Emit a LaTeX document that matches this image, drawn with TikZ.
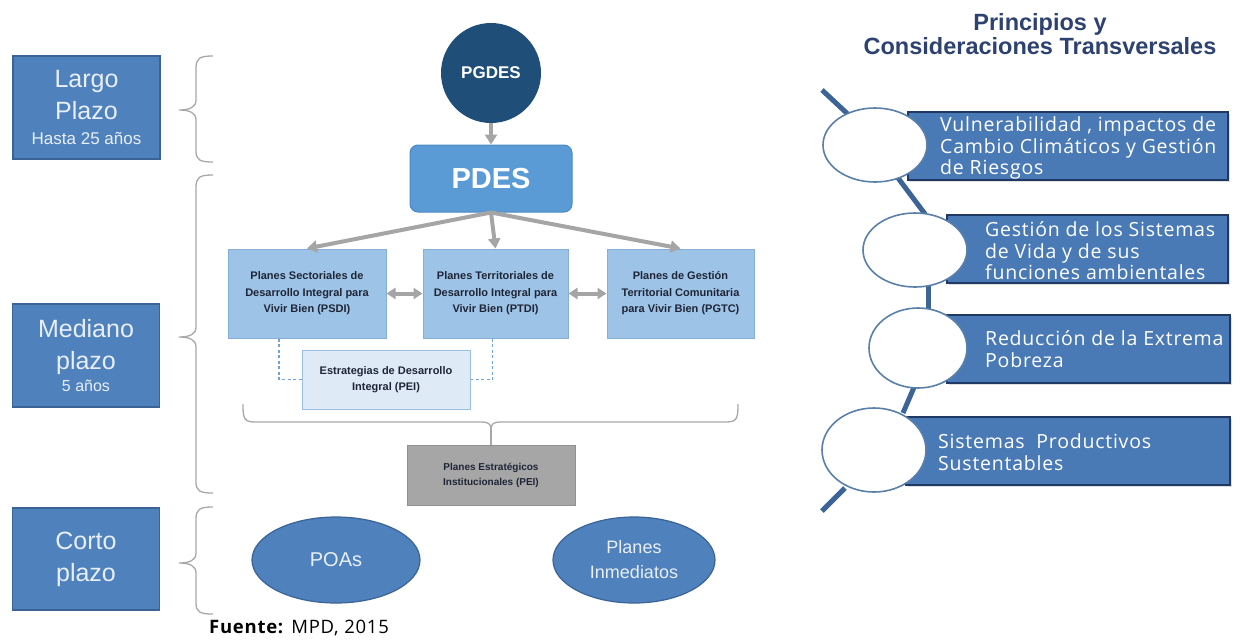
\documentclass[tikz,border=0pt]{standalone}
\usepackage{fontspec}
\setmainfont{Liberation Sans}
\newfontfamily\opensans[LetterSpace=4]{Open Sans}
\usetikzlibrary{arrows.meta,shapes.geometric,shadows}

\definecolor{termfill}{HTML}{4F81BD}
\definecolor{termedge}{HTML}{3A6396}
\definecolor{termtext}{HTML}{E8EFF8}
\definecolor{navy}{HTML}{1F4E79}
\definecolor{pdesblue}{HTML}{5B9BD5}
\definecolor{pdesedge}{HTML}{4A88C2}
\definecolor{planfill}{HTML}{9DC3E6}
\definecolor{planedge}{HTML}{85AED8}
\definecolor{peifill}{HTML}{DEEBF7}
\definecolor{peiedge}{HTML}{9BBFE0}
\definecolor{grayfill}{HTML}{A6A6A6}
\definecolor{grayedge}{HTML}{909090}
\definecolor{arrowgray}{HTML}{A5A5A5}
\definecolor{bracegray}{HTML}{A8A8A8}
\definecolor{darktext}{HTML}{1E2536}
\definecolor{titleblue}{HTML}{2E4272}
\definecolor{spine}{HTML}{3C6496}
\definecolor{rulefill}{HTML}{4A7AB6}
\definecolor{ruleedge}{HTML}{1F3864}
\definecolor{ringedge}{HTML}{5A80AA}
\definecolor{dashblue}{HTML}{6FA3D6}

\tikzset{
  term/.style={rectangle, fill=termfill, draw=termedge, line width=1.2pt,
    text=termtext, align=center, inner sep=0pt,
    minimum width=147pt, font=\fontsize{25}{32}\selectfont},
  brace/.style={draw=bracegray, line width=1.3pt},
  flow/.style={draw=arrowgray, line width=4pt,
    -{Triangle[length=10pt,width=12pt]}},
  twoway/.style={draw=arrowgray, line width=4pt,
    {Triangle[length=9pt,width=11pt]}-{Triangle[length=9pt,width=11pt]}},
  plan/.style={rectangle, fill=planfill, draw=planedge, line width=1pt,
    text=darktext, align=center, inner sep=0pt,
    font=\bfseries\fontsize{11}{16.5}\selectfont},
  dashline/.style={draw=dashblue, line width=1.2pt, dash pattern=on 3pt off 2.5pt},
  oval/.style={ellipse, fill=termfill, draw=termedge, line width=1.2pt,
    text=termtext, align=center, inner sep=0pt},
  rulebox/.style={rectangle, fill=rulefill, draw=ruleedge, line width=1.6pt,
    inner sep=0pt, drop shadow={shadow xshift=2pt, shadow yshift=-2pt, opacity=0.25}},
  ruletext/.style={text=white, align=left, anchor=west, inner sep=0pt,
    font=\opensans\fontsize{19.5}{21.5}\selectfont},
  ring/.style={ellipse, fill=white, draw=ringedge, line width=1.6pt, inner sep=0pt},
  spineline/.style={draw=spine, line width=5pt},
}

\begin{document}
\begin{tikzpicture}[x=1pt,y=-1pt]
\useasboundingbox (0,0) rectangle (1240,641);
\fill[white] (0,0) rectangle (1240,641);

% ---- time horizons ----
\node[term, minimum height=103pt] (largo) at (86.5,107.5)
  {Largo\\Plazo\\[-7pt]{\fontsize{17}{20}\selectfont Hasta 25 años}};
\node[term, minimum height=103pt] (mediano) at (86,355.5)
  {Mediano\\plazo\\[-10pt]{\fontsize{16}{19}\selectfont 5 años}};
\node[term, minimum height=102pt] (corto) at (86,559)
  {Corto\\plazo};

% braces grouping each horizon
\draw[brace] (213,56) .. controls (200,56) and (196,58) .. (196,68) -- (196,100)
  .. controls (196,107) and (190,110) .. (179,110)
  .. controls (190,110) and (196,113) .. (196,120) -- (196,151)
  .. controls (196,160) and (200,162) .. (213,162);
\draw[brace] (213,175) .. controls (200,175) and (196,177) .. (196,187) -- (196,327)
  .. controls (196,334) and (190,337) .. (179,337)
  .. controls (190,337) and (196,340) .. (196,347) -- (196,482)
  .. controls (196,491) and (200,493) .. (213,493);
\draw[brace] (213,507) .. controls (200,507) and (196,509) .. (196,519) -- (196,553)
  .. controls (196,560) and (190,563) .. (179,563)
  .. controls (190,563) and (196,566) .. (196,573) -- (196,603)
  .. controls (196,612) and (200,614) .. (213,614);

% ---- planning hierarchy ----
\node[circle, fill=navy, minimum size=100pt, inner sep=0pt, text=white,
  font=\bfseries\fontsize{17}{20}\selectfont] (pgdes) at (491,73) {PGDES};
\node[rectangle, rounded corners=8pt, fill=pdesblue, draw=pdesedge, line width=1pt,
  minimum width=162pt, minimum height=67pt, text=white,
  font=\bfseries\fontsize{29}{34}\selectfont] (pdes) at (491,178.5) {PDES};

\node[plan, minimum width=158pt, minimum height=89pt] (psdi) at (307,293.5)
  {Planes Sectoriales de\\Desarrollo Integral para\\Vivir Bien (PSDI)};
\node[plan, minimum width=145pt, minimum height=89pt] (ptdi) at (495.5,293.5)
  {Planes Territoriales de\\Desarrollo Integral para\\Vivir Bien (PTDI)};
\node[plan, minimum width=147pt, minimum height=89pt] (pgtc) at (680.5,293.5)
  {Planes de Gestión\\Territorial Comunitaria\\para Vivir Bien (PGTC)};
\node[plan, fill=peifill, draw=peiedge, minimum width=168pt, minimum height=59pt]
  (edi) at (386,379.5) {Estrategias de Desarrollo\\Integral (PEI)};
\node[plan, fill=grayfill, draw=grayedge, minimum width=168pt, minimum height=60pt,
  font=\bfseries\fontsize{10}{15}\selectfont] (pei) at (491,475)
  {Planes Estratégicos\\Institucionales (PEI)};

\draw[flow, line width=3.5pt] (pgdes) -- (pdes);
\draw[flow] (pdes.south) -- (psdi.north);
\draw[flow] (pdes.south) -- (ptdi.north);
\draw[flow] (pdes.south) -- (pgtc.north);
\draw[twoway] (psdi) -- (ptdi);
\draw[twoway] (ptdi) -- (pgtc);

\draw[dashline] (psdi.south) ++(-28,0) |- (edi.west);
\draw[dashline] (ptdi.south) ++(-3,0) |- (edi.east);

% bracket over the institutional plans
\coordinate (bk) at (491,429);
\draw[brace] (243,404) .. controls (243,419) and (244,422) .. (256,422) -- (482,422)
  .. controls (488,422) and (491,424) .. (bk)
  .. controls (491,424) and (494,422) .. (500,422) -- (725,422)
  .. controls (737,422) and (738,419) .. (738,404);
\draw[brace] (bk) -- (pei.north);

\node[oval, minimum width=168pt, minimum height=86pt,
  font=\fontsize{20}{24}\selectfont] (poas) at (336,560) {POAs};
\node[oval, minimum width=162pt, minimum height=86pt,
  font=\fontsize{18}{25}\selectfont] (inmed) at (634,560) {Planes\\Inmediatos};

\node[anchor=base west, inner sep=0pt, font=\opensans\fontsize{18.5}{20}\selectfont]
  (fuente) at (209,633) {\textbf{Fuente:} MPD, 2015};

% ---- cross-cutting principles ----
\node[align=center, text=titleblue, inner sep=0pt,
  font=\bfseries\fontsize{23.5}{24}\selectfont] (title) at (1040,34)
  {Principios y\\Consideraciones Transversales};

\draw[spineline] (822,90) -- (852,118);
\draw[spineline] (898,178) -- (925,214);
\draw[spineline] (928,285) -- (928,311);
\draw[spineline] (915,385) -- (903,413);
\draw[spineline] (845,488) -- (822,511);

\node[rulebox, minimum width=320pt, minimum height=68pt] (r1) at (1068,146) {};
\node[rulebox, minimum width=281pt, minimum height=68pt] (r2) at (1087.5,249) {};
\node[rulebox, minimum width=283pt, minimum height=68pt] (r3) at (1088.5,349) {};
\node[rulebox, minimum width=324pt, minimum height=68pt] (r4) at (1068,451) {};

\node[ring, minimum width=104pt, minimum height=74pt] (c1) at (875,145) {};
\node[ring, minimum width=104pt, minimum height=74pt] (c2) at (915,250) {};
\node[ring, minimum width=98pt, minimum height=80pt] (c3) at (918,348) {};
\node[ring, minimum width=104pt, minimum height=84pt] (c4) at (874,450) {};

\node[ruletext] (t1) at (940,148)
  {Vulnerabilidad , impactos de\\Cambio Climáticos y Gestión\\de Riesgos};
\node[ruletext] (t2) at (985,251)
  {Gestión de los Sistemas\\de Vida y de sus\\funciones ambientales};
\node[ruletext] (t3) at (985,349)
  {Reducción de la Extrema\\Pobreza};
\node[ruletext] (t4) at (938,452)
  {Sistemas~ Productivos\\Sustentables};
\end{tikzpicture}
\end{document}
